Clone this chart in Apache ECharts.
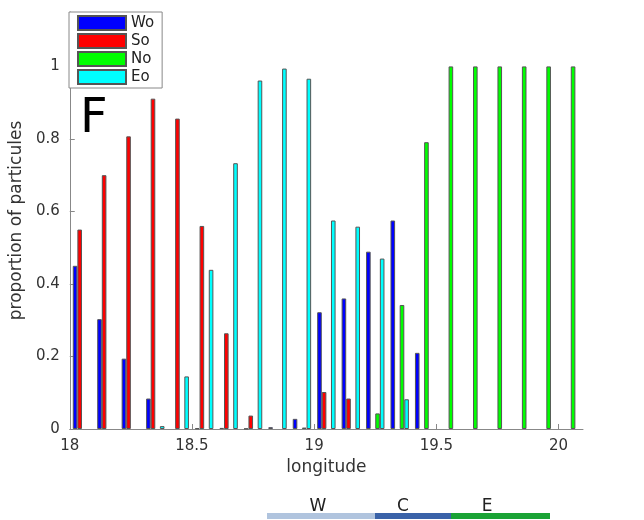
<!DOCTYPE html>
<html>
<head>
<meta charset="utf-8">
<script src="https://cdn.jsdelivr.net/npm/echarts@6/dist/echarts.min.js"></script>
<style>
html,body{margin:0;padding:0;background:#fff;}
#main{width:644px;height:520px;}
</style>
</head>
<body>
<div id="main"></div>
<script>
// centres des groupes (longitude)
var lon = [18.05,18.15,18.25,18.35,18.45,18.55,18.65,18.75,18.85,18.95,
           19.05,19.15,19.25,19.35,19.45,19.55,19.65,19.75,19.85,19.95,20.05];
var wo = [0.45,0.303,0.194,0.084,0,0.002,0.003,0.001,0.005,0.028,
          0.322,0.36,0.489,0.575,0.21,0,0,0,0,0,0];
var so = [0.55,0.70,0.807,0.911,0.856,0.56,0.264,0.037,0,0,
          0.102,0.084,0,0,0,0,0,0,0,0,0];
var no = [0,0,0,0,0,0,0,0,0,0.004,
          0,0,0.043,0.342,0.791,1,1,1,1,1,1];
var eo = [0,0,0,0.008,0.145,0.439,0.733,0.961,0.994,0.966,
          0.575,0.558,0.47,0.082,0,0,0,0,0,0,0];
var xTicks = [18,18.5,19,19.5,20];
var yTicks = [0,0.2,0.4,0.6,0.8,1];

// les valeurs nulles ne sont pas dessinées
function pairs(v){
	var out=[];
	for(var i=0;i<lon.length;i++){
		out.push([lon[i], v[i]===0 ? '-' : v[i]]);
	}
	return out;
}

var myChart = echarts.init(document.getElementById('main'));

function mkSeries(name,color,vals){
	return {
		name:name,
		type:'bar',
		barWidth:4.6,
		barGap:'0%',
		itemStyle:{
			color:color,
			borderColor:'#555',
			borderWidth:1
		},
		data:pairs(vals)
	};
}

var axisGrey = '#888';
var option = {
	animation:false,
	grid:{left:66,right:61,top:12,bottom:91},
	legend:{
		orient:'vertical',
		left:69,
		top:12,
		selectedMode:false,
		backgroundColor:'#fff',
		borderColor:axisGrey,
		borderWidth:1,
		padding:[3,8,3,8],
		itemGap:2,
		itemWidth:48,
		itemHeight:14,
		icon:'rect',
		textStyle:{fontFamily:'DejaVu Sans',fontSize:15,lineHeight:14,color:'#222'},
		data:['Wo','So','No','Eo']
	},
	xAxis:{
		type:'value',
		min:18,
		max:20.1,
		name:'longitude',
		nameLocation:'middle',
		nameGap:30,
		nameTextStyle:{fontFamily:'DejaVu Sans',fontSize:17,color:'#333'},
		axisLine:{lineStyle:{color:axisGrey}},
		axisTick:{inside:true,length:5,customValues:xTicks,lineStyle:{color:axisGrey}},
		axisLabel:{customValues:xTicks,margin:10,fontFamily:'DejaVu Sans',fontSize:15,color:'#333'},
		splitLine:{show:false}
	},
	yAxis:{
		type:'value',
		min:0,
		max:1.15,
		name:'proportion of particules',
		nameLocation:'middle',
		nameGap:40,
		nameTextStyle:{fontFamily:'DejaVu Sans',fontSize:17,color:'#333'},
		axisLine:{show:true,lineStyle:{color:axisGrey}},
		axisTick:{show:true,inside:true,length:5,customValues:yTicks,lineStyle:{color:axisGrey}},
		axisLabel:{customValues:yTicks,margin:10,fontFamily:'DejaVu Sans',fontSize:15,color:'#333'},
		splitLine:{show:false}
	},
	graphic:[
		{type:'text',left:80,top:96,style:{text:'F',fontFamily:'DejaVu Sans',fontSize:48,fill:'#000'}},
		{type:'rect',shape:{x:267,y:513,width:108,height:6},style:{fill:'#b0c4de'}},
		{type:'rect',shape:{x:375,y:513,width:76,height:6},style:{fill:'#3a62a8'}},
		{type:'rect',shape:{x:451,y:513,width:99,height:6},style:{fill:'#1aa335'}},
		{type:'text',x:318,y:507,style:{text:'W',fontFamily:'DejaVu Sans',fontSize:17,fill:'#222',align:'center',verticalAlign:'middle'}},
		{type:'text',x:403,y:507,style:{text:'C',fontFamily:'DejaVu Sans',fontSize:17,fill:'#222',align:'center',verticalAlign:'middle'}},
		{type:'text',x:487,y:507,style:{text:'E',fontFamily:'DejaVu Sans',fontSize:17,fill:'#222',align:'center',verticalAlign:'middle'}}
	],
	series:[
		mkSeries('Wo','#0000ff',wo),
		mkSeries('So','#ff0000',so),
		mkSeries('No','#00ff00',no),
		mkSeries('Eo','#00ffff',eo)
	]
};

myChart.setOption(option);
</script>
</body>
</html>
